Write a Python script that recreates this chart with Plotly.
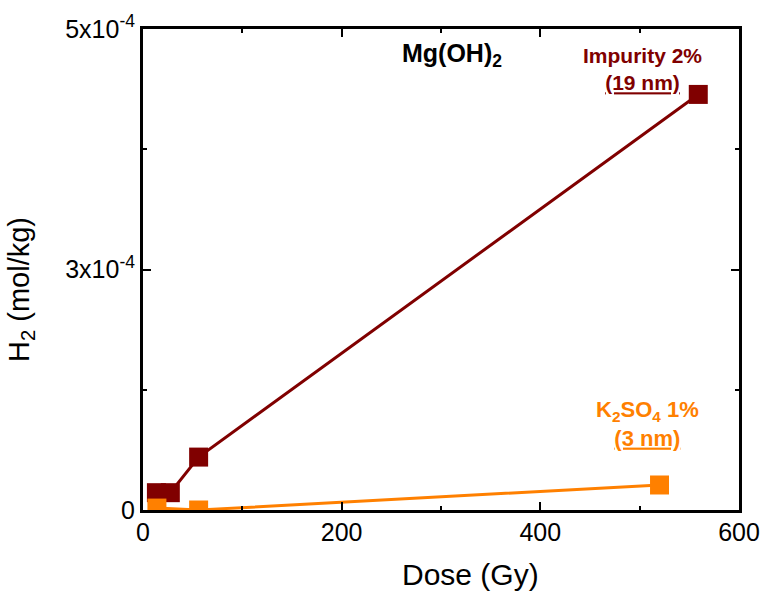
import plotly.graph_objects as go

# Data
impurity_dose = [13.5, 27.5, 56, 559]
impurity_h2 = [1.8e-5, 1.8e-5, 5.5e-5, 4.32e-4]

k2so4_dose = [14, 56, 520]
k2so4_h2 = [2e-6, 0.0, 2.6e-5]

y_tickvals = [0, 2.5e-4, 5e-4]
y_ticktext = ["0", "3x10<sup>-4</sup>", "5x10<sup>-4</sup>"]
x_tickvals = [0, 200, 400, 600]

DARK_RED = "#800000"
ORANGE = "#FF8000"
FONT = "Arial, 'Liberation Sans', sans-serif"

fig = go.Figure()
fig.add_trace(go.Scatter(
    x=impurity_dose, y=impurity_h2, mode="lines+markers",
    line=dict(color=DARK_RED, width=3),
    marker=dict(symbol="square", size=19, color=DARK_RED),
    showlegend=False,
))
fig.add_trace(go.Scatter(
    x=k2so4_dose, y=k2so4_h2, mode="lines+markers",
    line=dict(color=ORANGE, width=3),
    marker=dict(symbol="square", size=19, color=ORANGE),
    showlegend=False,
))

axis_common = dict(
    showline=True, linecolor="black", linewidth=3, mirror="ticks",
    ticks="inside", ticklen=8, tickwidth=2, tickcolor="black",
    showgrid=False, zeroline=False,
    tickfont=dict(family=FONT, size=25, color="black"),
)

fig.update_xaxes(
    range=[0, 600], tickvals=x_tickvals,
    minor=dict(ticks="inside", ticklen=4, tickwidth=2, tickcolor="black", dtick=100, tick0=0, showgrid=False),
    ticklabelstandoff=-2,
    **axis_common,
)
fig.update_yaxes(
    range=[0, 5e-4], tickvals=y_tickvals, ticktext=y_ticktext,
    minor=dict(ticks="inside", ticklen=4, tickwidth=2, tickcolor="black", dtick=1.25e-4, tick0=0, showgrid=False),
    **axis_common,
)

# Axis titles
fig.add_annotation(
    x=0.549, y=-0.135, xref="paper", yref="paper", showarrow=False,
    xanchor="center", yanchor="middle",
    text="Dose (Gy)", font=dict(family=FONT, size=30, color="black"),
)
fig.add_annotation(
    x=-0.205, y=0.459, xref="paper", yref="paper", showarrow=False, textangle=-90,
    xanchor="center", yanchor="middle",
    text="H<sub>2</sub> (mol/kg)", font=dict(family=FONT, size=29, color="black"),
)

fig.add_annotation(
    x=311, y=4.73e-4, xref="x", yref="y", showarrow=False,
    text="<b>Mg(OH)<sub>2</sub></b>",
    font=dict(family=FONT, size=25, color="black"),
)
fig.add_annotation(
    x=503, y=4.58e-4, xref="x", yref="y", showarrow=False,
    text="<b>Impurity 2%</b><br><b><u>(19 nm)</u></b>",
    font=dict(family=FONT, size=21, color=DARK_RED),
)
fig.add_annotation(
    x=508, y=0.894e-4, xref="x", yref="y", showarrow=False,
    text="<b>K<sub>2</sub>SO<sub>4</sub> 1%</b><br><b><u>(3 nm)</u></b>",
    font=dict(family=FONT, size=22, color=ORANGE),
)

fig.update_layout(
    width=761, height=592,
    margin=dict(l=143, r=22, t=29, b=82, autoexpand=False),
    plot_bgcolor="white", paper_bgcolor="white",
    font=dict(family=FONT, color="black"),
)

fig.write_html(
    "out.html",
    config={"displayModeBar": False},
    post_script="document.body.style.margin='0';document.body.style.overflow='hidden';",
)
